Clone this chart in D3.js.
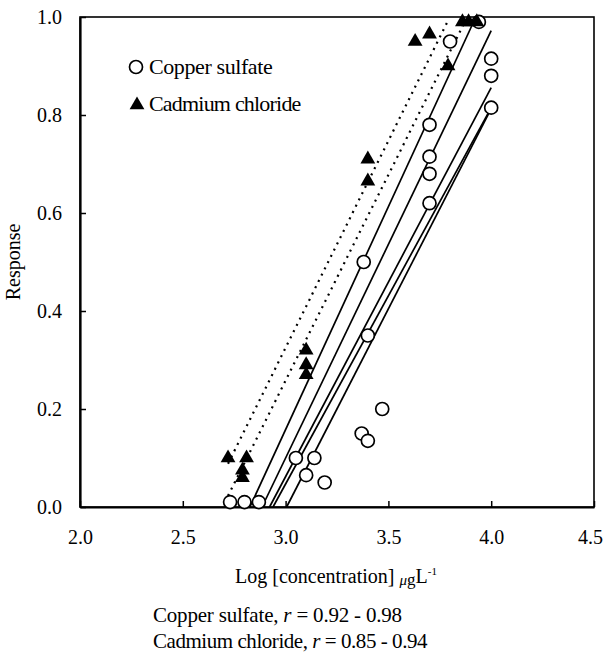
<!DOCTYPE html>
<html>
<head>
<meta charset="utf-8">
<script src="https://cdn.jsdelivr.net/npm/d3@7"></script>
<style>
	body { margin: 0; background: #fff; }
	text { font-family: "Liberation Serif", "Times New Roman", serif; fill: #000; }
	.axis path, .axis line { stroke: #000; }
	.axis text { font-size: 20px; }
</style>
</head>
<body>
<div id="chart"></div>
<script>
////////////////////////////////////////////////////////////
//////////////////////// Data //////////////////////////////
////////////////////////////////////////////////////////////

//Copper sulfate observations (log conc, response)
var copperX = [2.73, 2.80, 2.87, 3.05, 3.10, 3.14, 3.19, 3.37, 3.40, 3.47, 3.40, 3.38,
		3.70, 3.70, 3.70, 3.70, 3.80, 3.94, 4.00, 4.00, 4.00],
	copperY = [0.01, 0.01, 0.01, 0.10, 0.065, 0.10, 0.05, 0.15, 0.135, 0.20, 0.35, 0.50,
		0.62, 0.68, 0.715, 0.78, 0.95, 0.99, 0.915, 0.88, 0.815];

//Cadmium chloride observations
var cadmiumX = [2.72, 2.81, 2.79, 2.79, 3.10, 3.10, 3.10, 3.40, 3.40, 3.63, 3.70, 3.79, 3.86, 3.89, 3.93],
	cadmiumY = [0.10, 0.10, 0.075, 0.06, 0.32, 0.29, 0.27, 0.71, 0.665, 0.95, 0.965, 0.90, 0.99, 0.99, 0.99];

//Regression lines, one per replicate: response = intercept + slope * log conc
var copperSlope = [0.910, 0.872, 0.794, 0.768, 0.817],
	copperIntercept = [-2.572, -2.516, -2.320, -2.257, -2.455],
	cadmiumSlope = [0.845, 0.840],
	cadmiumIntercept = [-2.210, -2.262];

var xTicks = [2.0, 2.5, 3.0, 3.5, 4.0, 4.5],
	yTicks = [0.0, 0.2, 0.4, 0.6, 0.8, 1.0];

var legendLabels = ["Copper sulfate", "Cadmium chloride"];
var noteNames = ["Copper sulfate", "Cadmium chloride"],
	noteRanges = ["0.92 - 0.98", "0.85 - 0.94"];

////////////////////////////////////////////////////////////
//////////////////////// Set-up ////////////////////////////
////////////////////////////////////////////////////////////

var margin = {top: 17, right: 11, bottom: 150, left: 80},
	width = 605 - margin.left - margin.right,
	height = 657 - margin.top - margin.bottom;

var x = d3.scaleLinear()
	.domain([2, 4.5])
	.range([0, width]);

var y = d3.scaleLinear()
	.domain([0, 1])
	.range([height, 0]);

var svg = d3.select("#chart").append("svg")
	.attr("width", width + margin.left + margin.right)
	.attr("height", height + margin.top + margin.bottom)
  .append("g")
	.attr("transform", "translate(" + margin.left + "," + margin.top + ")");

////////////////////////////////////////////////////////////
/////////////////////// Axes ///////////////////////////////
////////////////////////////////////////////////////////////

//Frame round the plot
svg.append("rect")
	.attr("width", width)
	.attr("height", height)
	.style("fill", "none")
	.style("stroke", "#000")
	.style("stroke-width", 1.6);

var xAxis = d3.axisBottom(x)
	.tickValues(xTicks)
	.tickFormat(d3.format(".1f"))
	.tickSizeInner(-6)
	.tickSizeOuter(0)
	.tickPadding(23);

var yAxis = d3.axisLeft(y)
	.tickValues(yTicks)
	.tickFormat(d3.format(".1f"))
	.tickSizeInner(-6)
	.tickSizeOuter(0)
	.tickPadding(18);

svg.append("g")
	.attr("class", "x axis")
	.attr("transform", "translate(0," + height + ")")
	.call(xAxis)
	.call(function(g) {
		g.select(".domain").style("stroke-width", 2.2);
		g.selectAll(".tick line").style("stroke-width", 1.5);
		//last label sits on the page edge, nudge it in
		g.selectAll(".tick text").filter(function(d) { return d === 4.5; }).attr("dx", "-0.2em");
	});

svg.append("g")
	.attr("class", "y axis")
	.call(yAxis)
	.call(function(g) {
		g.select(".domain").style("stroke-width", 2.2);
		g.selectAll(".tick line").style("stroke-width", 1.5);
	});

//Axis titles
svg.append("text")
	.attr("transform", "rotate(-90)")
	.attr("x", -height / 2)
	.attr("y", 13 - margin.left)
	.attr("dy", "0.35em")
	.style("text-anchor", "middle")
	.style("font-size", "20px")
	.text("Response");

var xTitle = svg.append("text")
	.attr("x", width / 2 - 1)
	.attr("y", height + 76)
	.style("text-anchor", "middle")
	.style("font-size", "20px");
xTitle.append("tspan").text("Log [concentration] ");
xTitle.append("tspan").style("font-style", "italic").style("font-size", "15px").attr("dy", 2).text("\u03bc");
xTitle.append("tspan").style("font-size", "17px").text("g");
xTitle.append("tspan").attr("dy", -2).text("L");
xTitle.append("tspan").style("font-size", "11px").attr("dy", -8).text("-1");

////////////////////////////////////////////////////////////
/////////////////// Regression lines ///////////////////////
////////////////////////////////////////////////////////////

var copperMax = d3.max(copperX),
	cadmiumMin = d3.min(cadmiumX);

var line = d3.line()
	.x(function(d) { return x(d[0]); })
	.y(function(d) { return y(d[1]); });

copperSlope.forEach(function(b, i) {
	var a = copperIntercept[i],
		x0 = -a / b,
		x1 = Math.min(copperMax, (1 - a) / b);
	svg.append("path")
		.attr("class", "fit copper")
		.attr("d", line([[x0, a + b * x0], [x1, a + b * x1]]))
		.style("fill", "none")
		.style("stroke", "#000")
		.style("stroke-width", 1.7);
});

cadmiumSlope.forEach(function(b, i) {
	var a = cadmiumIntercept[i],
		x0 = Math.max(cadmiumMin, -a / b),
		x1 = (0.99 - a) / b;
	svg.append("path")
		.attr("class", "fit cadmium")
		.attr("d", line([[x0, a + b * x0], [x1, a + b * x1]]))
		.style("fill", "none")
		.style("stroke", "#000")
		.style("stroke-width", 2.2)
		.style("stroke-dasharray", "2,5");
});

////////////////////////////////////////////////////////////
////////////////////// Points //////////////////////////////
////////////////////////////////////////////////////////////

var triangle = d3.symbol().type(d3.symbolTriangle).size(95);

svg.selectAll(".copperDot")
	.data(copperX.map(function(d, i) { return [d, copperY[i]]; }))
	.enter().append("circle")
	.attr("class", "copperDot")
	.attr("cx", function(d) { return x(d[0]); })
	.attr("cy", function(d) { return y(d[1]); })
	.attr("r", 6.5)
	.style("fill", "#fff")
	.style("stroke", "#000")
	.style("stroke-width", 1.7);

svg.selectAll(".cadmiumDot")
	.data(cadmiumX.map(function(d, i) { return [d, cadmiumY[i]]; }))
	.enter().append("path")
	.attr("class", "cadmiumDot")
	.attr("d", triangle)
	.attr("transform", function(d) { return "translate(" + x(d[0]) + "," + y(d[1]) + ")"; })
	.style("fill", "#000");

////////////////////////////////////////////////////////////
////////////////////// Legend //////////////////////////////
////////////////////////////////////////////////////////////

var legend = svg.append("g")
	.attr("transform", "translate(56,50)");

legend.append("circle")
	.attr("r", 6.5)
	.style("fill", "#fff")
	.style("stroke", "#000")
	.style("stroke-width", 1.7);

legend.append("path")
	.attr("d", triangle)
	.attr("transform", "translate(1,38)");

var legendSpacing = ["-0.4px", "-0.8px"];

legend.selectAll(".legendText")
	.data(legendLabels)
	.enter().append("text")
	.attr("class", "legendText")
	.attr("x", 13)
	.attr("y", function(d, i) { return i * 37 + 7; })
	.style("font-size", "22px")
	.style("letter-spacing", function(d, i) { return legendSpacing[i]; })
	.text(function(d) { return d; });

////////////////////////////////////////////////////////////
/////////////////////// Notes //////////////////////////////
////////////////////////////////////////////////////////////

//the original squeezes the second line harder than the first
var noteSpacing = ["-0.2px", "-0.45px"];

noteNames.forEach(function(d, i) {
	var t = svg.append("text")
		.attr("x", 73)
		.attr("y", height + 115 + i * 26)
		.style("font-size", "21px")
		.style("letter-spacing", noteSpacing[i]);
	t.append("tspan").text(d + ", ");
	t.append("tspan").style("font-style", "italic").text("r");
	t.append("tspan").text(" = " + noteRanges[i]);
});
</script>
</body>
</html>
